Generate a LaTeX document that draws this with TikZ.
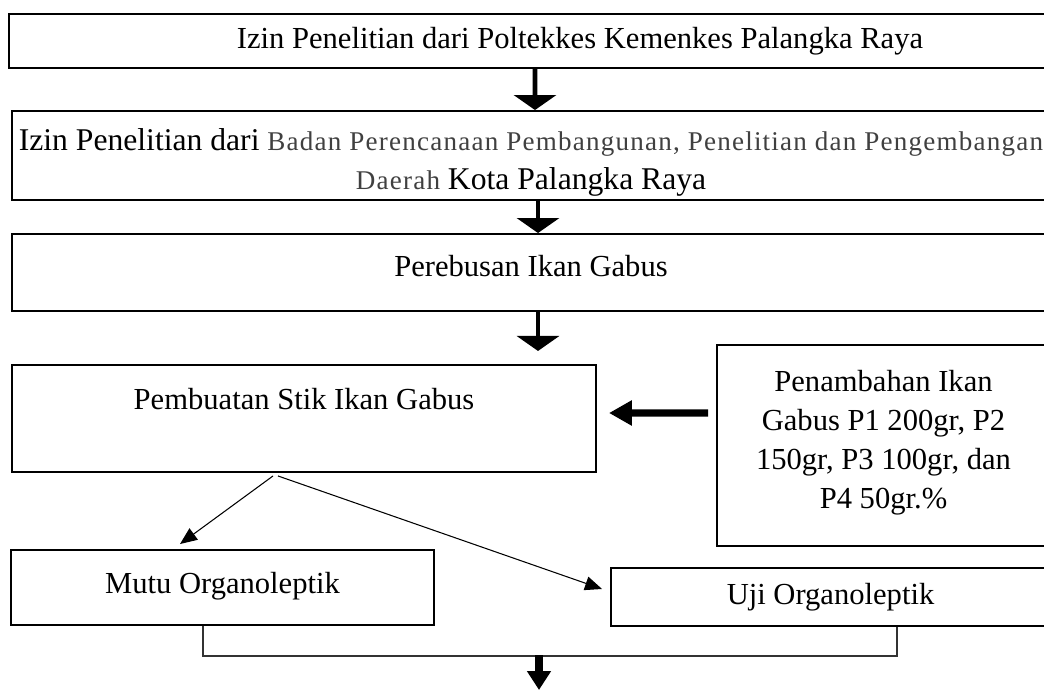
\documentclass[tikz,border=0pt]{standalone}
\usepackage{fontspec}
\setmainfont{Liberation Serif}
\newfontfamily\abufont[LetterSpace=4.5]{Liberation Serif}
\usetikzlibrary{arrows.meta}
\definecolor{abu}{gray}{0.25}
\newcommand{\kecil}[1]{{\abufont\fontsize{15.4}{22.2}\selectfont\color{abu}#1}}

\begin{document}
\begin{tikzpicture}[>=Latex, every node/.style={align=center,font=\fontsize{17.4}{22.2}\selectfont},
    kotak/.style={draw,line width=1.1pt,inner sep=2pt},
    panah/.style={-{Triangle[width=0.84cm,length=0.3cm]},line width=2.8pt},
    panahtebal/.style={-{Triangle[width=0.48cm,length=0.46cm]},line width=4pt},
    panahtipis/.style={-{Triangle[width=0.28cm,length=0.34cm]},line width=0.6pt}]
    \useasboundingbox (0,0) rectangle (20.88,13.82);
    \clip (0,0) rectangle (20.88,13.82);
    \node[kotak,minimum width=20.82cm,minimum height=1.08cm] (izin1) at (10.59,13.00)
      {\hspace*{2.02cm}Izin Penelitian dari Poltekkes Kemenkes Palangka Raya};
    \node[kotak,minimum width=20.76cm,minimum height=1.78cm,inner xsep=0pt,font=\fontsize{18}{22.2}\selectfont] (izin2) at (10.62,10.71)
      {\mbox{}\\[-0.07cm]Izin Penelitian dari \kecil{Badan Perencanaan Pembangunan, Penelitian dan Pengembangan}\\\kecil{Daerah} Kota Palangka Raya};
    \node[kotak,minimum width=20.76cm,minimum height=1.54cm] (rebus) at (10.62,8.37)
      {Perebusan Ikan Gabus\\[-0.5cm]\mbox{}};
    \node[kotak,minimum width=11.68cm,minimum height=2.14cm] (stik) at (6.08,5.45)
      {Pembuatan Stik Ikan Gabus\\\mbox{}};
    \node[kotak,minimum width=6.66cm,minimum height=4.02cm] (tambah) at (17.67,4.91)
      {Penambahan Ikan\\Gabus P1 200gr, P2\\150gr, P3 100gr, dan\\P4 50gr.\%\\[-0.54cm]\mbox{}};
    \node[kotak,minimum width=8.46cm,minimum height=1.50cm] (mutu) at (4.45,2.07)
      {Mutu Organoleptik\\[-0.58cm]\mbox{}};
    \node[kotak,minimum width=8.78cm,minimum height=1.16cm] (uji) at (16.61,1.88)
      {Uji Organoleptik};
    \draw[panah] ([xshift=1.1mm]izin1.south) -- ([xshift=0.8mm]izin2.north);
    \draw[panah] ([xshift=1.4mm]izin2.south) -- ([xshift=1.4mm]rebus.north);
    \draw[panah] ([xshift=1.4mm]rebus.south) -- ++(0,-0.78);
    \draw[panahtebal,shorten <=0.16cm,shorten >=0.24cm] ([yshift=6.5mm]tambah.west) -- ([yshift=1.1mm]stik.east);
    \draw[panahtipis] ([xshift=-6.2mm,yshift=-0.6mm]stik.south) -- ([xshift=-8.5mm,yshift=1mm]mutu.north);
    \draw[panahtipis] ([xshift=-5.2mm,yshift=-0.6mm]stik.south) -- ([xshift=-1.6mm,yshift=1.6mm]uji.west);
    \draw[line width=0.6pt,black!80] ([xshift=-3.9mm]mutu.south) -- ++(0,-0.60) -| ([xshift=13.3mm]uji.south);
    \coordinate (gabung) at (10.78,0.72);
    \draw[-{Triangle[width=0.46cm,length=0.38cm]},line width=4.5pt] (gabung) -- ++(0,-0.70);
\end{tikzpicture}
\end{document}
